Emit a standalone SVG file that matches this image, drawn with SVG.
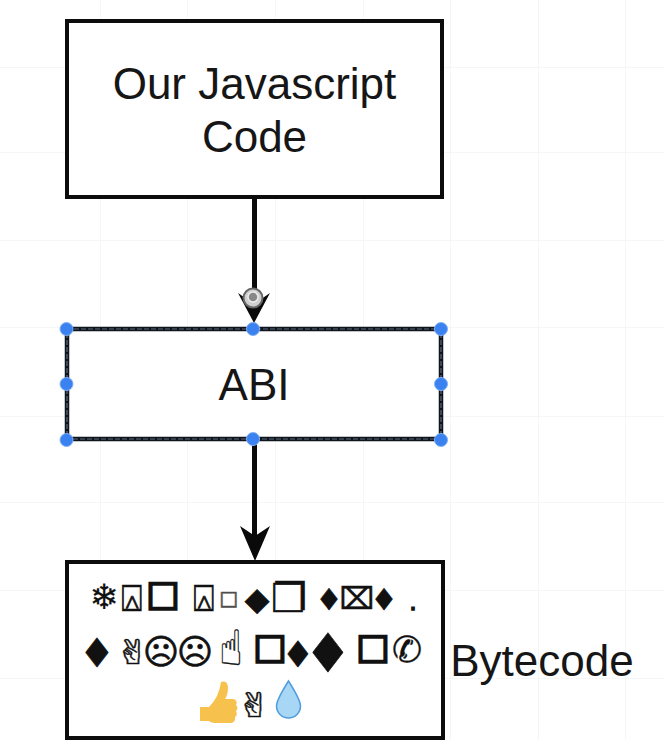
<svg xmlns="http://www.w3.org/2000/svg" width="664" height="740" viewBox="0 0 664 740">
<style>
.box{fill:#fff;stroke:#0c0c0c;stroke-width:4}
.t{font-family:"Liberation Sans",Arial,sans-serif;fill:#161616;text-anchor:middle;font-size:44px}
.g{font-family:"DejaVu Sans",sans-serif;fill:#111;stroke:#111;stroke-width:.6;text-anchor:middle}
.h{fill:#3b82f0;stroke:#7fb0f7;stroke-width:1}
.grid{stroke:#f6f6f6;stroke-width:1;fill:none}
.c{stroke:#0a0a0a;stroke-width:5;fill:none}
.dash{fill:none;stroke:#5a6a80;stroke-width:1.2;stroke-dasharray:5 2}
</style>
<rect width="664" height="740" fill="#fff"/>
<g id="grid" class="grid">
<path d="M0 67.500H664M0 152.500H664M0 240.500H664M0 327.500H664M0 416.500H664M0 502.500H664M0 590.500H664M0 678.500H664"/>
<path d="M100.500 0V740M187.500 0V740M275.500 0V740M363.500 0V740M450.500 0V740M538.500 0V740M625.500 0V740"/>
</g>
<g id="connectors">
<path class="c" d="M254.500 197V305"/>
<path d="M254 323 L238 293 L254 304 L270 293 Z" fill="#0a0a0a"/>
<path class="c" d="M254.500 440V540"/>
<path d="M255 561 L240 526 L255 536 L270 526 Z" fill="#0a0a0a"/>
</g>
<g id="js-code">
<rect class="box" x="67" y="21" width="375" height="176"/>
<text class="t" x="254.500" y="99">Our Javascript</text>
<text class="t" x="254.500" y="152">Code</text>
</g>
<g id="cursor">
<circle cx="253" cy="298" r="9.500" fill="#cfcfcf" stroke="#666" stroke-width="2"/>
<circle cx="253" cy="297" r="5" fill="#888" stroke="#eee" stroke-width="1.500"/>
</g>
<g id="abi">
<rect x="67" y="329" width="374" height="110" fill="#fff" stroke="#10141c" stroke-width="4.500"/>
<rect class="dash" x="67" y="329" width="374" height="110"/>
<text class="t" x="254" y="400">ABI</text>
<circle class="h" cx="66.500" cy="329" r="6.500"/>
<circle class="h" cx="253" cy="329" r="6.500"/>
<circle class="h" cx="441" cy="329" r="6.500"/>
<circle class="h" cx="66.500" cy="384" r="6.500"/>
<circle class="h" cx="441" cy="384" r="6.500"/>
<circle class="h" cx="66.500" cy="440" r="6.500"/>
<circle class="h" cx="253" cy="439" r="6.500"/>
<circle class="h" cx="441" cy="440" r="6.500"/>
</g>
<g id="bytecode">
<rect class="box" x="67" y="562" width="376" height="176"/>
<g class="g">
<text x="104" y="609" font-size="35" stroke-width=".2">❄</text>
<text x="132" y="611" font-size="36">⍓</text>
<text x="163" y="607" font-size="42" stroke-width="1.800">◻</text>
<text x="204" y="611" font-size="36">⍓</text>
<text x="229" y="606" font-size="24" stroke="#666" fill="#444">◻</text>
<text x="257" y="610" font-size="32">◆</text>
<text x="289" y="612" font-size="40">❐</text>
<text x="329" y="610" font-size="30">♦</text>
<text x="357" y="609" font-size="30">⌧</text>
<text x="384" y="610" font-size="30">♦</text>
<text x="413" y="610" font-size="22" stroke-width="1.500">.</text>
<text x="97" y="667" font-size="40">♦</text>
<text transform="translate(133 664) scale(1.4 1)" font-size="34" stroke-width=".3">✌</text>
<text x="161" y="664" font-size="35">☹</text>
<text x="195" y="664" font-size="35">☹</text>
<text transform="translate(231 665) scale(1 1.3)" font-size="38" stroke-width=".3">☝</text>
<text x="270" y="660" font-size="42" stroke-width="1.800">◻</text>
<text x="298" y="667" font-size="36">♦</text>
<text x="328" y="672" font-size="54">♦</text>
<text x="373" y="660" font-size="42" stroke-width="1.800">◻</text>
<text x="407" y="662" font-size="36" stroke-width=".3">✆</text>
<text transform="translate(254.500 717) scale(1.4 1)" font-size="34" stroke-width=".3">✌</text>
</g>
<g id="thumb"><path d="M200 707 h9 q5-5 8-11 q3-7 4-14 q6-2 7 5 q0 8-3 12 h9 q4 2 2 6 q3 3 0 6 q2 4-1 6 q1 5-4 6 h-14 q-6 0-8-2 h-9z" fill="#f6c24d"/></g>
<g id="drop"><path d="M288.500 681 q-12 19-12 25 a12 12 0 0 0 24 0 q0-6-12-25z" fill="#a8d6f5" stroke="#4f9ddf" stroke-width="1.500"/></g>
</g>
<text id="bytecode-label" class="t" x="542" y="676">Bytecode</text>
</svg>
